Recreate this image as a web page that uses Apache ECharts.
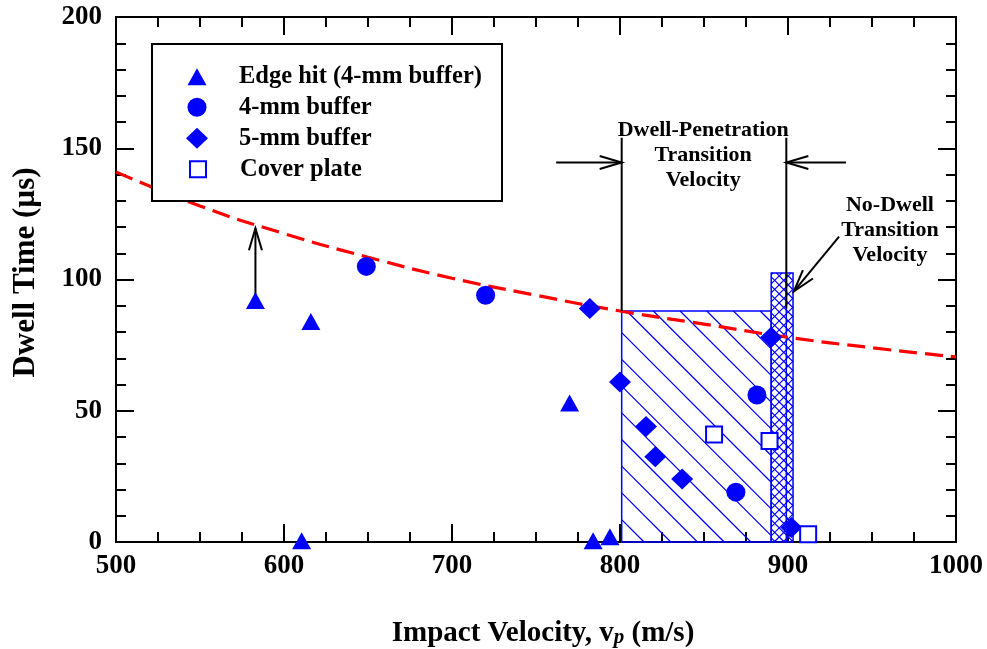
<!DOCTYPE html>
<html>
<head>
<meta charset="utf-8">
<title>Dwell time vs impact velocity</title>
<script src="https://cdn.jsdelivr.net/npm/echarts@6/dist/echarts.min.js"></script>
<style>
  html, body { margin: 0; padding: 0; background: #fff; }
  #chart { width: 987px; height: 649px; }
</style>
</head>
<body>
<div id="chart"></div>
<script>
// values (velocity m/s, dwell time us)
const edgeHit = [[583, 92], [616, 84], [770, 53], [610.5, 0.5], [784, 0.5], [794, 2]];
const buffer4 = [[649, 105], [720, 94], [881.5, 56], [869, 19]];
const buffer5 = [[782, 89], [800, 61], [815.5, 44], [821, 32.5], [837, 24], [890, 78], [902, 5.5]];
const coverPlate = [[856, 41], [889, 38.5], [912, 3]];

// dashed red fit line, read at every 50 m/s
const fitV = [500, 550, 600, 650, 700, 750, 800, 850, 900, 950, 1000];
const fitT = [141, 128, 117.5, 108.5, 100.5, 94, 88, 83, 78, 74, 70.5];

// hatched transition boxes: [left, right, top, hatch type (0 diag, 1 cross), inner divider]
const transitionBoxes = [[801, 890, 88, 0, 0], [890, 903, 102.5, 1, 899]];

// annotation lines: [x1, y1, x2, y2, arrow head at end]
const annoSegs = [
  [583, 93.5, 583, 119.5, 1],
  [762, 144.6, 801, 144.6, 1],
  [934.5, 144.6, 899, 144.6, 1],
  [801, 88, 801, 154, 0],
  [899, 89, 899, 154, 0],
  [930.4, 116.3, 903.5, 95.5, 1]
];
const noteText = ['Dwell-Penetration\nTransition\nVelocity', 'No-Dwell\nTransition\nVelocity'];
const noteV = [849.5, 960.7];
const noteT = [147.4, 118.9];

const legendNames = ['Edge hit (4-mm buffer)', '4-mm buffer', '5-mm buffer', 'Cover plate'];
const legendIcons = ['triangle', 'circle', 'diamond', 'rect'];
const legendW = [19, 19, 22, 16];
const legendH = [17, 19, 21, 16];
const legendRowY = [76.7, 107.3, 138.3, 169.3];

const BLUE = '#0000ff';
const SERIF = '"Liberation Serif", "Times New Roman", serif';

const chart = echarts.init(document.getElementById('chart'));

function renderBox(params, api) {
  const a = api.coord([api.value(0), 0]);
  const b = api.coord([api.value(1), api.value(2)]);
  const cross = api.value(3);
  const x = a[0], y = b[1], w = b[0] - a[0], h = a[1] - b[1];
  const step = cross ? 9 : 26.7;
  const ls = { stroke: BLUE, lineWidth: 1.2 };
  const kids = [];
  // "\" lines
  for (let c = 5 - Math.ceil(h / step) * step; c < w; c += step) {
    const t0 = Math.max(0, -c), t1 = Math.min(h, w - c);
    if (t1 > t0) {
      kids.push({ type: 'line', shape: { x1: x + c + t0, y1: y + t0, x2: x + c + t1, y2: y + t1 }, style: ls });
    }
  }
  if (cross) {
    // "/" lines
    for (let c = 2; c < w + h; c += step) {
      const t0 = Math.max(0, c - w), t1 = Math.min(h, c);
      if (t1 > t0) {
        kids.push({ type: 'line', shape: { x1: x + c - t0, y1: y + t0, x2: x + c - t1, y2: y + t1 }, style: ls });
      }
    }
  }
  if (api.value(4)) {
    const d = api.coord([api.value(4), 0]);
    kids.push({ type: 'line', shape: { x1: d[0], y1: y, x2: d[0], y2: y + h }, style: { stroke: BLUE, lineWidth: 1.5 } });
  }
  kids.push({ type: 'rect', shape: { x: x, y: y, width: w, height: h }, style: { fill: 'none', stroke: BLUE, lineWidth: 1.5 } });
  return { type: 'group', children: kids };
}

function renderSeg(params, api) {
  const p = api.coord([api.value(0), api.value(1)]);
  const q = api.coord([api.value(2), api.value(3)]);
  const st = { stroke: '#000', lineWidth: 2, fill: 'none' };
  const kids = [{ type: 'line', shape: { x1: p[0], y1: p[1], x2: q[0], y2: q[1] }, style: st }];
  if (api.value(4)) {
    const dx = q[0] - p[0], dy = q[1] - p[1];
    const L = Math.hypot(dx, dy), ux = dx / L, uy = dy / L;
    const len = 22, hw = 6.5;
    kids.push({
      type: 'polyline',
      shape: { points: [
        [q[0] - ux * len - uy * hw, q[1] - uy * len + ux * hw],
        [q[0], q[1]],
        [q[0] - ux * len + uy * hw, q[1] - uy * len - ux * hw]
      ] },
      style: st
    });
  }
  return { type: 'group', children: kids };
}

function renderNote(params, api) {
  const p = api.coord([api.value(0), api.value(1)]);
  return {
    type: 'text',
    x: p[0], y: p[1],
    style: {
      text: noteText[params.dataIndex],
      font: 'bold 22px ' + SERIF,
      fill: '#000', align: 'center', verticalAlign: 'middle', lineHeight: 25
    }
  };
}

const axisLine = { show: true, onZero: false, lineStyle: { color: '#000', width: 2 } };
const axisTick = { show: true, inside: true, length: 18, lineStyle: { color: '#000', width: 2 } };
const labelStyle = { color: '#000', fontFamily: SERIF, fontWeight: 'bold', fontSize: 27 };

const scatterBase = { type: 'scatter', z: 4, clip: false };

chart.setOption({
  animation: false,
  backgroundColor: '#fff',
  grid: { left: 116, right: 31, top: 17, bottom: 107, outerBoundsMode: 'none' },
  xAxis: [
    {
      type: 'value', min: 500, max: 1000, interval: 100,
      axisLine: axisLine, axisTick: axisTick,
      minorTick: { show: true, splitNumber: 4, length: 10, lineStyle: { color: '#000', width: 2 } },
      splitLine: { show: false },
      axisLabel: Object.assign({ margin: 11, formatter: v => String(v) }, labelStyle),
      name: 'Impact Velocity, v{sub|p} (m/s)',
      nameLocation: 'middle', nameGap: 77,
      nameTextStyle: {
        color: '#000', fontFamily: SERIF, fontWeight: 'bold', fontSize: 29,
        padding: [0, 0, 0, 14],
        rich: { sub: { fontFamily: SERIF, fontWeight: 'bold', fontStyle: 'italic', fontSize: 21, verticalAlign: 'bottom', padding: [8, 0, 0, 0] } }
      }
    },
    {
      type: 'value', position: 'top', min: 500, max: 1000, interval: 100,
      axisLine: axisLine, axisTick: axisTick,
      minorTick: { show: true, splitNumber: 4, length: 10, lineStyle: { color: '#000', width: 2 } },
      splitLine: { show: false }, axisLabel: { show: false }
    }
  ],
  yAxis: [
    {
      type: 'value', min: 0, max: 200, interval: 50,
      axisLine: axisLine, axisTick: axisTick,
      minorTick: { show: true, splitNumber: 5, length: 10, lineStyle: { color: '#000', width: 2 } },
      splitLine: { show: false },
      axisLabel: Object.assign({ margin: 14 }, labelStyle),
      name: 'Dwell Time (\u00b5s)',
      nameLocation: 'middle', nameGap: 75,
      nameTextStyle: { color: '#000', fontFamily: SERIF, fontWeight: 'bold', fontSize: 31, padding: [0, 0, 0, 14] }
    },
    {
      type: 'value', position: 'right', min: 0, max: 200, interval: 50,
      axisLine: axisLine, axisTick: axisTick,
      minorTick: { show: true, splitNumber: 5, length: 10, lineStyle: { color: '#000', width: 2 } },
      splitLine: { show: false }, axisLabel: { show: false }
    }
  ],
  legend: legendNames.map((n, i) => ({
    data: [{ name: n, icon: legendIcons[i] }],
    left: 197 - legendW[i] / 2,
    top: legendRowY[i] - 14,
    padding: 0,
    z: 8,
    selectedMode: false,
    itemWidth: legendW[i],
    itemHeight: legendH[i],
    textStyle: {
      color: '#000', fontFamily: SERIF, fontWeight: 'bold', fontSize: 24.5, lineHeight: 28,
      padding: [0, 0, 0, 37 - legendW[i] / 2]
    }
  })),
  graphic: [{
    type: 'rect', z: 7,
    shape: { x: 152, y: 44, width: 350, height: 157 },
    style: { fill: '#fff', stroke: '#000', lineWidth: 2 }
  }],
  series: [
    {
      type: 'custom', name: 'transition', z: 1,
      renderItem: renderBox,
      data: transitionBoxes
    },
    {
      type: 'line', name: 'fit', z: 2,
      data: fitV.map((v, i) => [v, fitT[i]]),
      smooth: true, symbol: 'none',
      lineStyle: { color: '#ff0000', width: 3.2, type: [18, 8] }
    },
    {
      type: 'custom', name: 'arrows', z: 3,
      renderItem: renderSeg,
      data: annoSegs
    },
    {
      type: 'custom', name: 'notes', z: 3,
      renderItem: renderNote,
      data: noteV.map((v, i) => [v, noteT[i]])
    },
    Object.assign({}, scatterBase, {
      name: legendNames[0], data: edgeHit, symbol: 'triangle', symbolSize: [19, 17],
      itemStyle: { color: BLUE, opacity: 1 }
    }),
    Object.assign({}, scatterBase, {
      name: legendNames[1], data: buffer4, symbol: 'circle', symbolSize: 19,
      itemStyle: { color: BLUE, opacity: 1 }
    }),
    Object.assign({}, scatterBase, {
      name: legendNames[2], data: buffer5, symbol: 'diamond', symbolSize: [22, 21],
      itemStyle: { color: BLUE, opacity: 1 }
    }),
    Object.assign({}, scatterBase, {
      name: legendNames[3], data: coverPlate, symbol: 'rect', symbolSize: 16,
      itemStyle: { color: '#fff', borderColor: BLUE, borderWidth: 2, opacity: 1 }
    })
  ]
});
</script>
</body>
</html>
